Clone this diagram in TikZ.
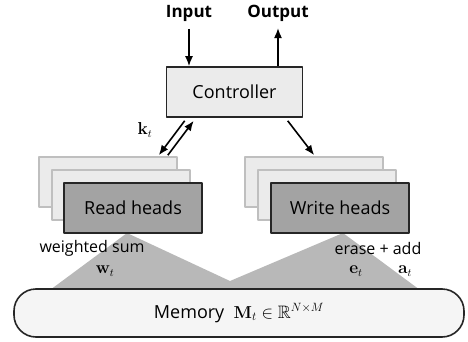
\documentclass[tikz,border=0pt]{standalone}
\usepackage{amsmath,amssymb}
\usepackage[no-math]{fontspec}
\setmainfont{Open Sans}
\usetikzlibrary{arrows.meta,positioning,calc}
\tikzstyle{every node}=[font=\fontsize{18}{20}\selectfont]
\tikzstyle{every path}=[line width=1.6pt,line join=round]
\tikzstyle{frontbox}=[draw=black!85,fill=black!36,minimum width=138pt,minimum height=50pt,inner sep=0pt]
\tikzstyle{backbox}=[draw=black!25,fill=black!8,minimum width=138pt,minimum height=50pt,inner sep=0pt]
\tikzstyle{arr}=[-{Latex[length=10pt,width=8pt]}]
\tikzstyle{lbl}=[font=\fontsize{16}{18}\selectfont,inner sep=0pt]

\begin{document}
\begin{tikzpicture}[x=1pt,y=-1pt]
\useasboundingbox (0,0) rectangle (468,342);

% shaded fans between heads and memory
\fill[black!28] (50,290)--(127,233)--(230,281)--(343,233)--(420,290)--cycle;

\node[draw=black!85,fill=black!8,minimum width=136pt,minimum height=50pt] (ctrl) at (234.5,92) {Controller};
\node[font=\fontsize{17}{19}\selectfont\bfseries,inner sep=1pt] (in) at (189,13) {Input};
\node[font=\fontsize{17}{19}\selectfont\bfseries,inner sep=1pt] (out) at (278,13) {Output};

% read heads
\node[backbox] (readA) at (108,182) {};
\node[backbox] (readB) at (121,195) {};
\node[frontbox] (read) at (133,208) {Read heads};

% write heads
\node[backbox] (writeA) at (314,182) {};
\node[backbox] (writeB) at (327,195) {};
\node[frontbox] (write) at (340,208) {Write heads};

\node[draw=black!85,fill=black!4,rounded corners=22pt,minimum width=450pt,minimum height=48pt] (mem) at (239,313)
  {Memory \ $\mathbf{M}_t \in \mathbb{R}^{N\times M}$};

% arrows
\draw[arr] (in.south) ++(0,6) -- (in.south |- ctrl.north);
\draw[arr] (ctrl.north -| out.south) -- ([yshift=-5pt]out.south);
\draw[arr] ($(ctrl.south west)+(19,3)$) -- ($(readA.north east)+(-19,-1)$);
\draw[arr] ($(readA.north east)+(-10,-1)$) -- ($(ctrl.south west)+(28,3)$);
\draw[arr] ($(ctrl.south west)+(122,3)$) -- ($(writeA.north west)+(70,-1)$);

\node[lbl] (k) at (145,130) {$\mathbf{k}_t$};
\node[lbl] (ws) at (92,248) {weighted sum};
\node[lbl] (w) at (105,271) {$\mathbf{w}_t$};
\node[lbl] (ea) at (378,248) {erase + add};
\node[lbl] (e) at (356,271) {$\mathbf{e}_t$};
\node[lbl] (a) at (405,271) {$\mathbf{a}_t$};
\end{tikzpicture}
\end{document}
